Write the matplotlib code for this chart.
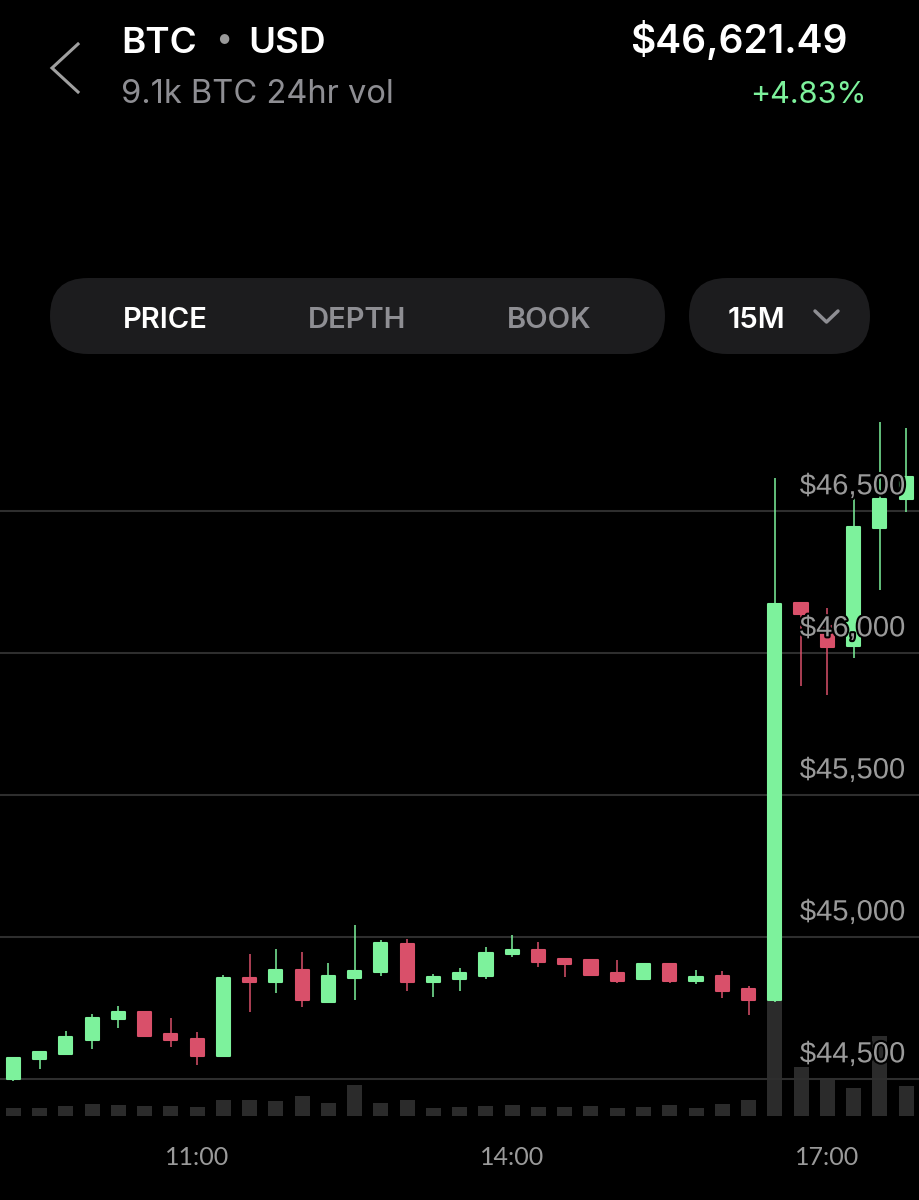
import matplotlib.pyplot as plt
from matplotlib.patches import FancyBboxPatch
import matplotlib.patheffects as pe
import numpy as np

# 15 minute candles, first one at 09:15
opens = [44500, 44570, 44588, 44637, 44711, 44737, 44657, 44641, 44581, 44856,
         44840, 44885, 44771, 44857, 44876, 44975, 44843, 44853, 44864, 44939,
         44954, 44921, 44918, 44872, 44851, 44904, 44845, 44863, 44817, 44778,
         46177, 46095, 46025, 46441, 46541]
highs = [44576, 44598, 44669, 44728, 44758, 44740, 44716, 44664, 44866, 44939,
         44959, 44947, 44910, 45042, 44989, 44993, 44870, 44890, 44964, 45008,
         44982, 44923, 44924, 44918, 44908, 44906, 44883, 44879, 44826, 46617,
         46179, 46157, 46556, 46814, 46793]
lows = [44493, 44535, 44583, 44607, 44678, 44648, 44614, 44548, 44578, 44737,
        44803, 44755, 44770, 44778, 44863, 44811, 44790, 44809, 44853, 44931,
        44895, 44858, 44863, 44839, 44849, 44839, 44833, 44785, 44725, 44770,
        45884, 45852, 45981, 46222, 46498]
closes = [44574, 44595, 44648, 44715, 44737, 44651, 44637, 44582, 44856, 44842,
          44885, 44777, 44864, 44881, 44980, 44842, 44858, 44873, 44945, 44953,
          44911, 44906, 44865, 44846, 44904, 44844, 44858, 44810, 44778, 46171,
          46137, 46022, 46443, 46541, 46621]
volume = [22, 22, 30, 35, 32, 30, 30, 26, 46, 46, 44, 60, 39, 93, 39, 47, 23, 25,
          29, 31, 26, 26, 29, 22, 25, 31, 22, 34, 46, 347, 147, 109, 82, 239, 89]

price_levels = [44500, 45000, 45500, 46000, 46500]
x_ticks = [7, 19, 31]
x_labels = ["11:00", "14:00", "17:00"]

GREEN = "#7df29c"
RED = "#d9506a"
GREY = "#8e8e93"
HEAD = ['Inter', 'DejaVu Sans']

plt.rcParams['font.family'] = ['Liberation Sans', 'DejaVu Sans']

fig = plt.figure(figsize=(9.2, 12), dpi=100, facecolor='black')

# header and buttons, drawn in pixel coordinates
bg = fig.add_axes([0, 0, 1, 1])
bg.set_xlim(0, 920)
bg.set_ylim(1200, 0)
bg.axis('off')
bg.set_facecolor('black')

bg.plot([78, 52, 78], [44, 68, 92], color='#a0a0a0', lw=2.2, solid_joinstyle='miter')
bg.text(121, 53, "BTC", color='white', fontsize=26.5, fontweight='semibold', va='baseline', family=HEAD)
bg.text(224, 40, "•", color='#9a9a9a', fontsize=22, ha='center', va='center', family=HEAD)
bg.text(248, 53, "USD", color='white', fontsize=26.5, fontweight='semibold', va='baseline', family=HEAD)
bg.text(848, 53, "$46,621.49", color='white', fontsize=28, fontweight='semibold',
        ha='right', va='baseline', family=HEAD)
bg.text(121, 103, "9.1k BTC 24hr vol", color=GREY, fontsize=23.5, va='baseline', family=HEAD)
bg.text(867, 103, "+4.83%", color=GREEN, fontsize=22, ha='right', va='baseline', family=HEAD)

bg.add_patch(FancyBboxPatch((50, 278), 615, 76, boxstyle="round,pad=0,rounding_size=38",
                            fc='#1c1c1e', ec='none'))
bg.add_patch(FancyBboxPatch((689, 278), 181, 76, boxstyle="round,pad=0,rounding_size=38",
                            fc='#1c1c1e', ec='none'))
for label, cx, col in [("PRICE", 165, 'white'), ("DEPTH", 357, GREY),
                       ("BOOK", 549, GREY), ("15M", 756, 'white')]:
    bg.text(cx, 328, label, color=col, fontsize=21, fontweight='semibold',
            ha='center', va='baseline', family=HEAD)
bg.plot([815, 826.5, 838], [311, 322, 311], color=GREY, lw=2.5, solid_capstyle='round')

# chart area
ax_bottom = (1200 - 1115.7) / 1200
ax_top = (1200 - 400) / 1200
ax = fig.add_axes([0, ax_bottom, 1, ax_top - ax_bottom])
ax_v = ax.twinx()

x = np.arange(len(opens))
o = np.array(opens)
h = np.array(highs)
l = np.array(lows)
c = np.array(closes)
colors = np.where(c >= o, GREEN, RED)

# volume bars under the candles
ax_v.bar(x, volume, width=0.57, color='#2b2b2b')
ax_v.set_ylim(0, 2147)
ax_v.axis('off')
ax_v.set_zorder(1)
ax.set_zorder(2)
ax.patch.set_visible(False)

ax.vlines(x, l, h, colors=colors, lw=1.1, zorder=2)
ax.bar(x, c - o, bottom=o, width=0.5, color=colors, edgecolor=colors, lw=1.5,
       joinstyle='round', zorder=3)

ax.set_xlim(-0.5065, 34.53)
ax.set_ylim(44370.8, 46890.8)
ax.set_yticks(price_levels)
ax.grid(axis='y', color='#2e2e2e', lw=1.5)
ax.set_axisbelow(True)
ax.tick_params(axis='y', left=False, labelleft=False)
for s in ax.spines.values():
    s.set_visible(False)

for lv in price_levels:
    ax.annotate(f"${lv:,}", xy=(905 / 920, lv), xycoords=('axes fraction', 'data'),
                xytext=(0, 12), textcoords='offset points', ha='right', va='baseline',
                color='#9a9a9a', fontsize=21, zorder=10,
                path_effects=[pe.withStroke(linewidth=3, foreground='black')])

ax.set_xticks(x_ticks)
ax.set_xticklabels(x_labels, fontfamily=['Lato', 'DejaVu Sans'])
ax.tick_params(axis='x', length=0, pad=22, labelcolor='#9a9a9a', labelsize=18)

fig.savefig('out.png', dpi=100, facecolor='black')
